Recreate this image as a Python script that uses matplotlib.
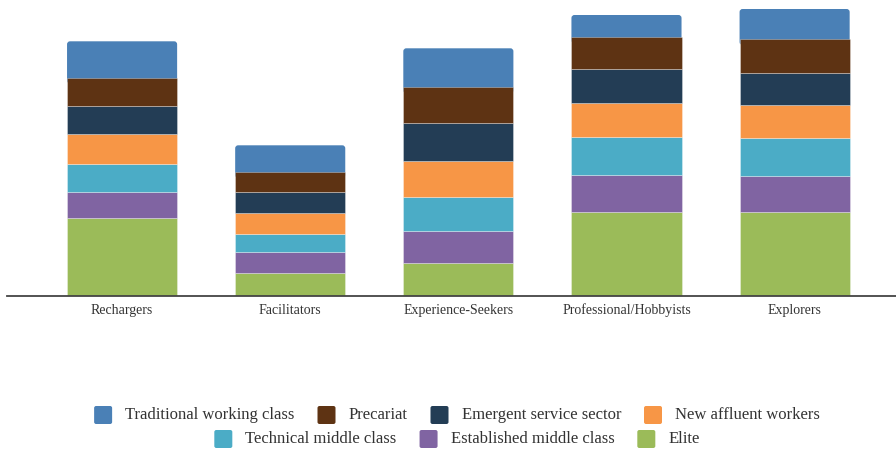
import matplotlib
matplotlib.use("Agg")
import matplotlib.pyplot as plt
from matplotlib.patches import FancyBboxPatch

plt.rcParams["font.family"] = ["Liberation Serif", "DejaVu Serif"]

CATEGORIES = ["Rechargers", "Facilitators", "Experience-Seekers",
              "Professional/Hobbyists", "Explorers"]

# stacked from the bottom up
ELITE = [77.7, 23.4, 32.7, 84.3, 84.3]
ESTABLISHED = [26.7, 20.6, 32.3, 36.7, 35.7]
TECHNICAL = [27.3, 18.4, 34.3, 38.3, 37.7]
NEW_AFFLUENT = [30.0, 21.0, 36.0, 33.4, 33.3]
EMERGENT = [28.3, 21.0, 37.4, 34.3, 31.7]
PRECARIAT = [28.4, 19.6, 36.0, 31.7, 34.3]
TRADITIONAL = [36.3, 26.7, 39.0, 22.3, 30.0]

SERIES = [
    ("Elite", ELITE, "#9bbb59"),
    ("Established middle class", ESTABLISHED, "#8064a2"),
    ("Technical middle class", TECHNICAL, "#4bacc6"),
    ("New affluent workers", NEW_AFFLUENT, "#f79646"),
    ("Emergent service sector", EMERGENT, "#233d55"),
    ("Precariat", PRECARIAT, "#5e3313"),
    ("Traditional working class", TRADITIONAL, "#4a80b6"),
]

LEGEND_ROWS = [
    ["Traditional working class", "Precariat", "Emergent service sector", "New affluent workers"],
    ["Technical middle class", "Established middle class", "Elite"],
]

W, H = 896, 451
fig = plt.figure(figsize=(W / 100, H / 100), dpi=100)
ax = fig.add_axes([7 / W, 1 - 296 / H, (896 - 7) / W, 296 / H])

x = list(range(len(CATEGORIES)))
width = 110 / 168
bottom = [0.0] * len(CATEGORIES)
for i, (name, vals, color) in enumerate(SERIES):
    if i < len(SERIES) - 1:
        ax.bar(x, vals, width, bottom=bottom, color=color,
               edgecolor=(1, 1, 1, 0.45), linewidth=0.5, zorder=2)
    else:
        # top segment with rounded upper corners; extended down behind the one below
        for xi, v, b in zip(x, vals, bottom):
            ext = 6
            patch = FancyBboxPatch((xi - width / 2, b - ext), width, v + ext,
                                   boxstyle="round,pad=0,rounding_size=%f" % (3 / 168),
                                   mutation_aspect=168, facecolor=color,
                                   edgecolor="none", zorder=1)
            ax.add_patch(patch)
    bottom = [b + v for b, v in zip(bottom, vals)]

ax.set_xlim(-0.6845, 4.603)
ax.set_ylim(0, 296)
ax.set_xticks(x)
ax.set_xticklabels(CATEGORIES, fontsize=10, color="#333333", va="baseline")
ax.tick_params(axis="x", length=0, pad=13)
ax.set_yticks([])
for s in ["top", "right", "left"]:
    ax.spines[s].set_visible(False)
ax.spines["bottom"].set_color("#444444")
ax.spines["bottom"].set_linewidth(1.3)
ax.spines["bottom"].set_zorder(3)

# manual centred legend, two rows
colors = {name: color for name, _, color in SERIES}
renderer = fig.canvas.get_renderer()
box, gap_txt, gap_item = 18, 13, 23
for row, yc in zip(LEGEND_ROWS, [415, 439]):
    texts = []
    for name in row:
        t = fig.text(0, 1 - yc / H, name, fontsize=12, color="#333333",
                     va="center", ha="left")
        texts.append(t)
    widths = [t.get_window_extent(renderer).width for t in texts]
    total = sum(box + gap_txt + w for w in widths) + gap_item * (len(row) - 1)
    xp = 457 - total / 2
    for name, t, w in zip(row, texts, widths):
        fig.patches.append(FancyBboxPatch(
            (xp / W, 1 - (yc + box / 2) / H), box / W, box / H,
            boxstyle="round,pad=0,rounding_size=%f" % (2 / W),
            mutation_aspect=W / H, transform=fig.transFigure,
            facecolor=colors[name], edgecolor="none", figure=fig))
        t.set_x((xp + box + gap_txt) / W)
        xp += box + gap_txt + w + gap_item

fig.savefig("out.png", dpi=100)
